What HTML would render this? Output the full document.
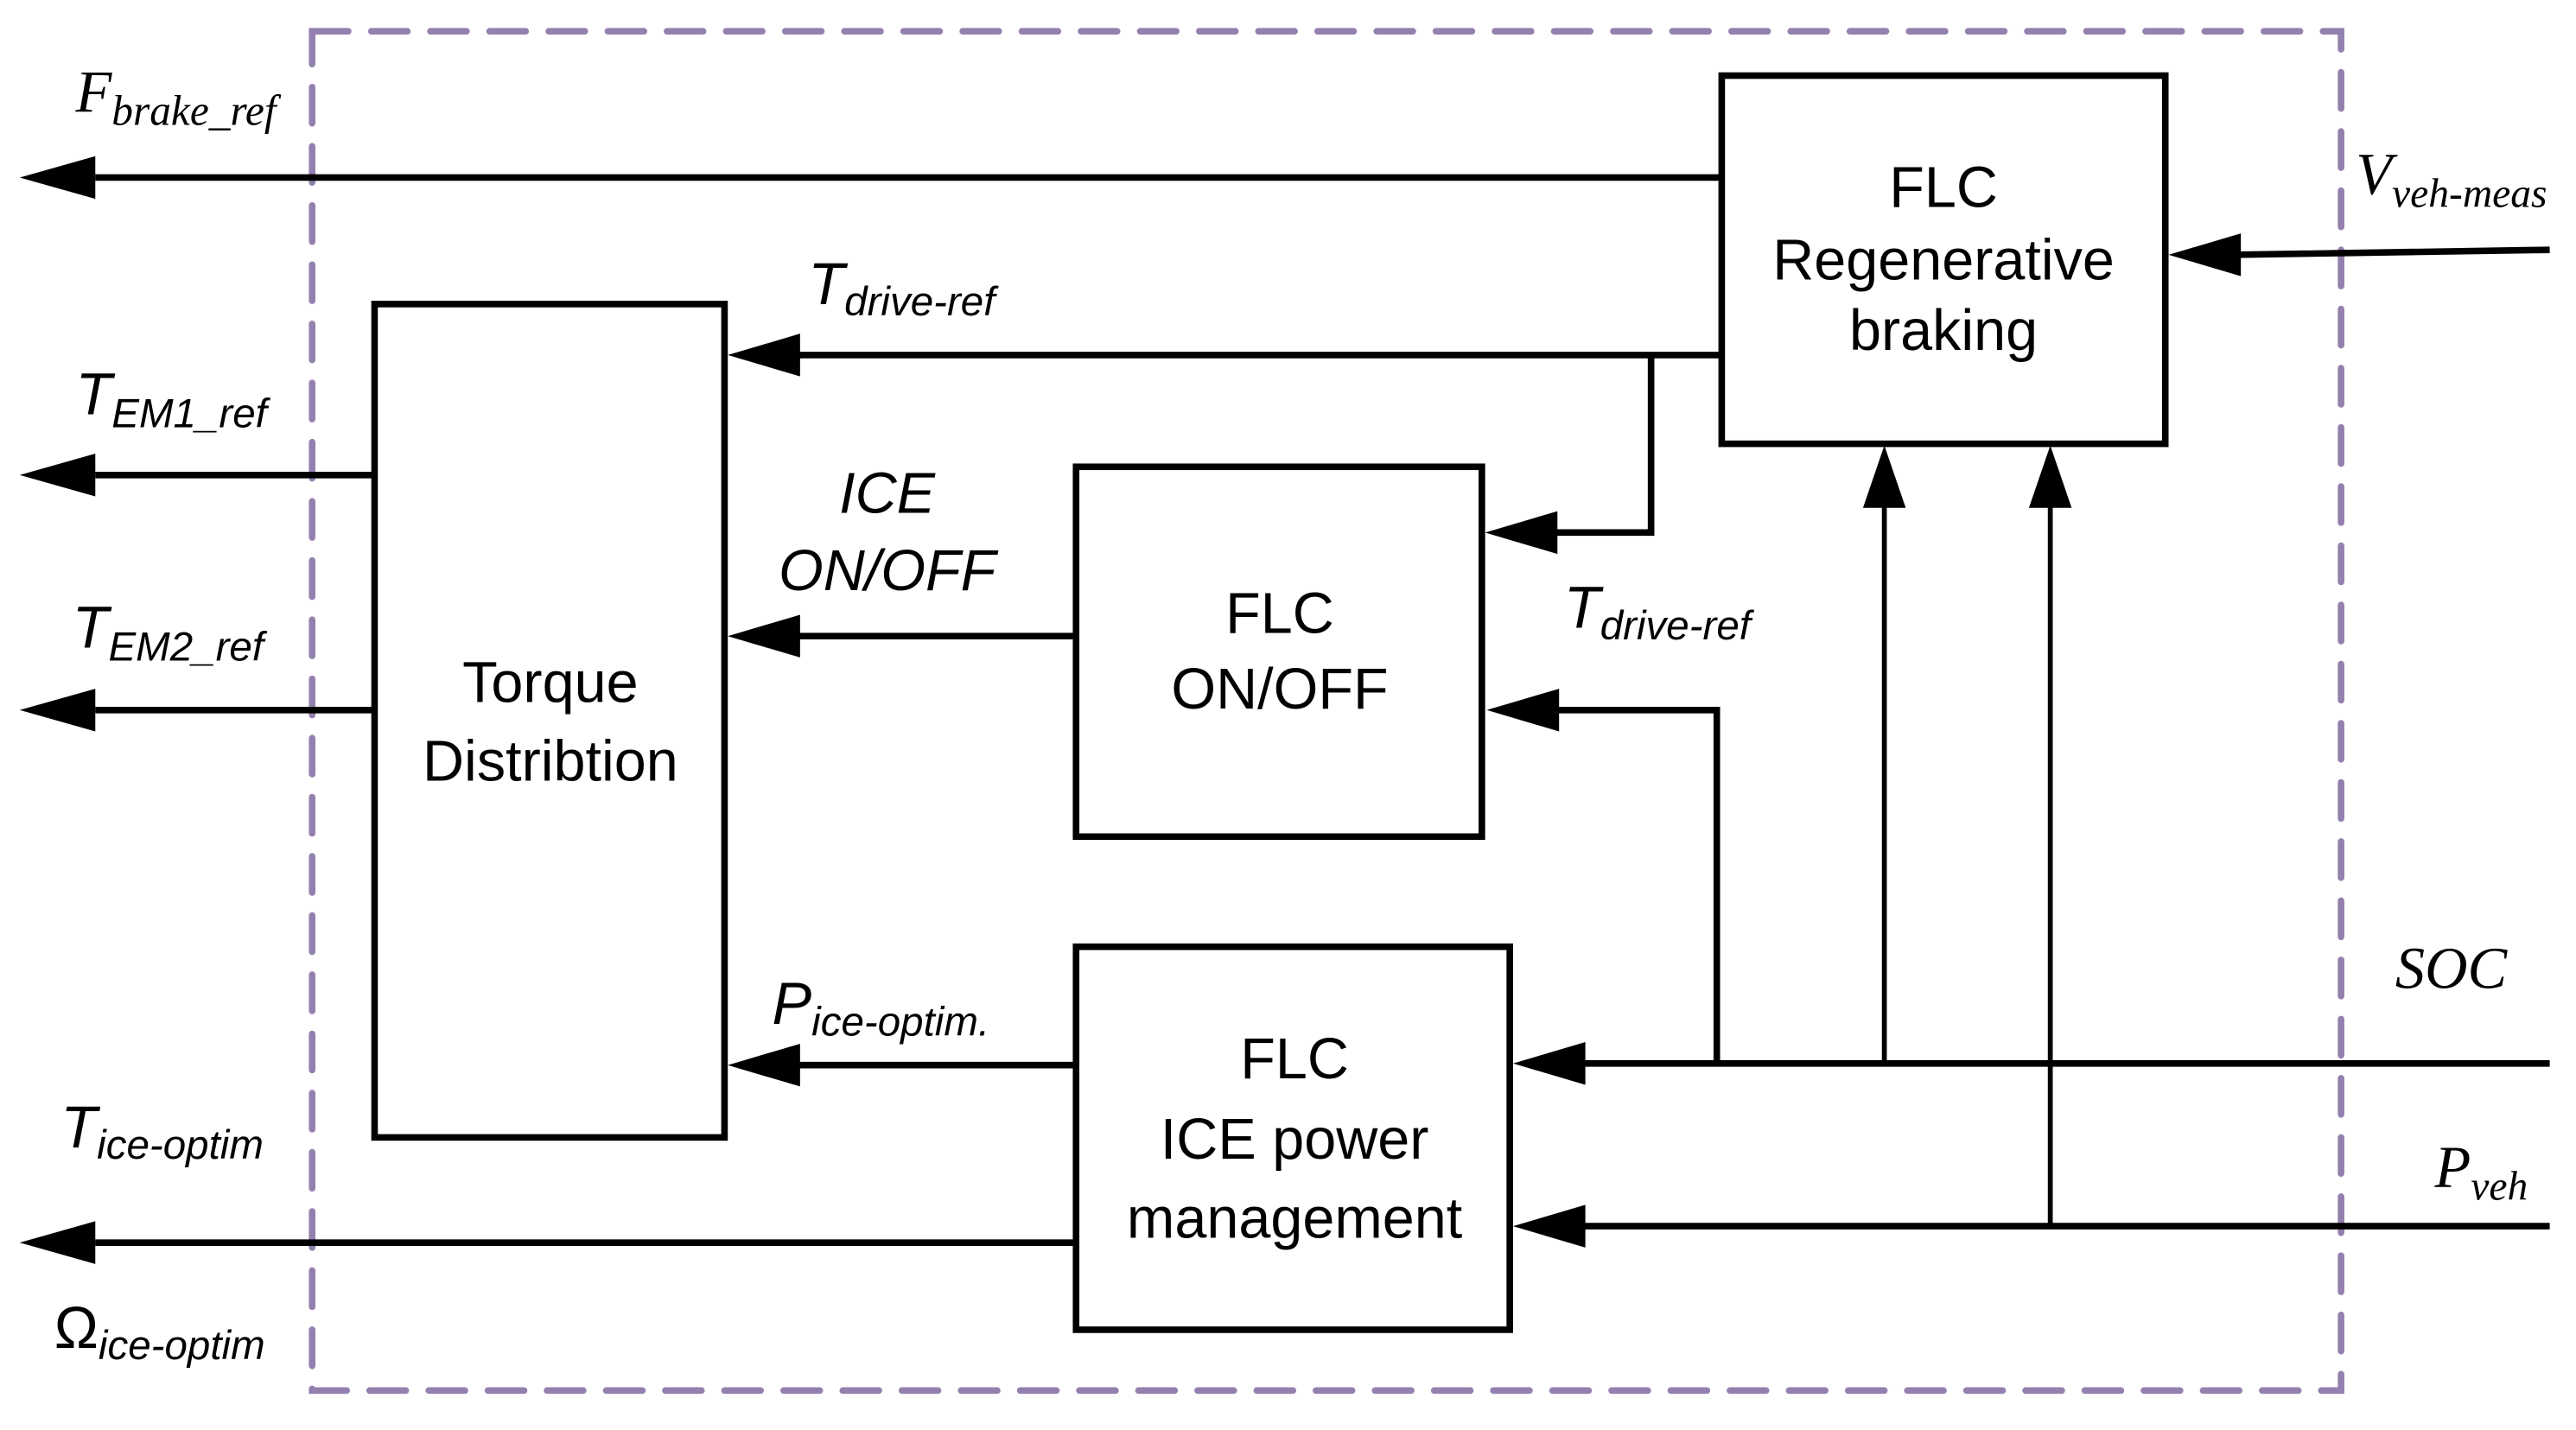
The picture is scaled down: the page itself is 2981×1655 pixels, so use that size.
<!DOCTYPE html>
<html><head><meta charset="utf-8"><style>
html,body{margin:0;padding:0;background:#fff;}
svg{display:block;}
.s{font-family:"Liberation Sans",sans-serif;}
.r{font-family:"Liberation Serif",serif;}
</style></head><body>
<svg width="2981" height="1655" viewBox="0 0 1568 870" preserveAspectRatio="none" xmlns="http://www.w3.org/2000/svg">
<rect x="190" y="19" width="1235" height="827" fill="none" stroke="#9480ae" stroke-width="4" stroke-dasharray="22 14" stroke-linecap="round"/>
<g fill="none" stroke="#000" stroke-width="4">
<rect x="1048" y="46" width="270" height="224"/>
<rect x="228" y="185" width="213" height="507"/>
<rect x="655" y="284" width="247" height="225"/>
<rect x="655" y="576" width="264" height="233"/>
</g>
<g stroke="#000" stroke-width="4" fill="none">
<line x1="1048" y1="108" x2="58" y2="108"/>
<path d="M12,108 l46,-13 v26z" fill="#000" stroke="none"/>
<line x1="1552" y1="152" x2="1362" y2="155"/>
<path d="M1320,155 l44,-13 v26z" fill="#000" stroke="none"/>
<line x1="1048" y1="216" x2="486" y2="216"/>
<path d="M443,216 l44,-13 v26z" fill="#000" stroke="none"/>
<polyline points="1005,216 1005,324 946,324"/>
<path d="M904,324 l44,-13 v26z" fill="#000" stroke="none"/>
<line x1="228" y1="289" x2="58" y2="289"/>
<path d="M12,289 l46,-13 v26z" fill="#000" stroke="none"/>
<line x1="228" y1="432" x2="58" y2="432"/>
<path d="M12,432 l46,-13 v26z" fill="#000" stroke="none"/>
<line x1="655" y1="387" x2="486" y2="387"/>
<path d="M443,387 l44,-13 v26z" fill="#000" stroke="none"/>
<polyline points="1045,647 1045,432 948,432"/>
<path d="M905,432 l44,-13 v26z" fill="#000" stroke="none"/>
<line x1="1552" y1="647" x2="963" y2="647"/>
<path d="M921,647 l44,-13 v26z" fill="#000" stroke="none"/>
<line x1="1552" y1="746" x2="963" y2="746"/>
<path d="M921,746 l44,-13 v26z" fill="#000" stroke="none"/>
<line x1="655" y1="648" x2="486" y2="648"/>
<path d="M443,648 l44,-13 v26z" fill="#000" stroke="none"/>
<line x1="655" y1="756" x2="58" y2="756"/>
<path d="M12,756 l46,-13 v26z" fill="#000" stroke="none"/>
</g>
<g stroke="#000" stroke-width="3">
<line x1="1147" y1="647" x2="1147" y2="308"/>
<line x1="1248" y1="746" x2="1248" y2="308"/>
</g>
<path d="M1147,271 l-13,38 h26z" fill="#000"/>
<path d="M1248,271 l-13,38 h26z" fill="#000"/>
<g class="s" font-size="35" text-anchor="middle" fill="#000">
<text x="1183" y="126">FLC</text>
<text x="1183" y="170">Regenerative</text>
<text x="1183" y="213">braking</text>
<text x="335" y="427">Torque</text>
<text x="335" y="475">Distribtion</text>
<text x="779" y="385">FLC</text>
<text x="779" y="431">ON/OFF</text>
<text x="788" y="656">FLC</text>
<text x="788" y="705">ICE power</text>
<text x="788" y="753">management</text>
<text x="540" y="312" font-style="italic">ICE</text>
<text x="540" y="359" font-style="italic">ON/OFF</text>
</g>
<g class="s" font-style="italic" fill="#000" font-size="36">
<text x="492" y="185">T<tspan font-size="25" dy="7">drive-ref</tspan></text>
<text x="952" y="382">T<tspan font-size="25" dy="7">drive-ref</tspan></text>
<text x="46" y="252">T<tspan font-size="25" dy="8">EM1_ref</tspan></text>
<text x="44" y="394">T<tspan font-size="25" dy="8">EM2_ref</tspan></text>
<text x="470" y="623">P<tspan font-size="25" dy="7">ice-optim.</tspan></text>
<text x="37" y="698">T<tspan font-size="25" dy="7">ice-optim</tspan></text>
<text x="33" y="820"><tspan font-style="normal">Ω</tspan><tspan font-size="25" dy="7">ice-optim</tspan></text>
</g>
<g class="r" font-style="italic" fill="#000" font-size="36">
<text x="46" y="68">F<tspan font-size="26" dy="8">brake_ref</tspan></text>
<text x="1434" y="118">V<tspan font-size="25" dy="8">veh-meas</tspan></text>
<text x="1458" y="601">SOC</text>
<text x="1482" y="722">P<tspan font-size="25" dy="8">veh</tspan></text>
</g>
</svg>
</body></html>
